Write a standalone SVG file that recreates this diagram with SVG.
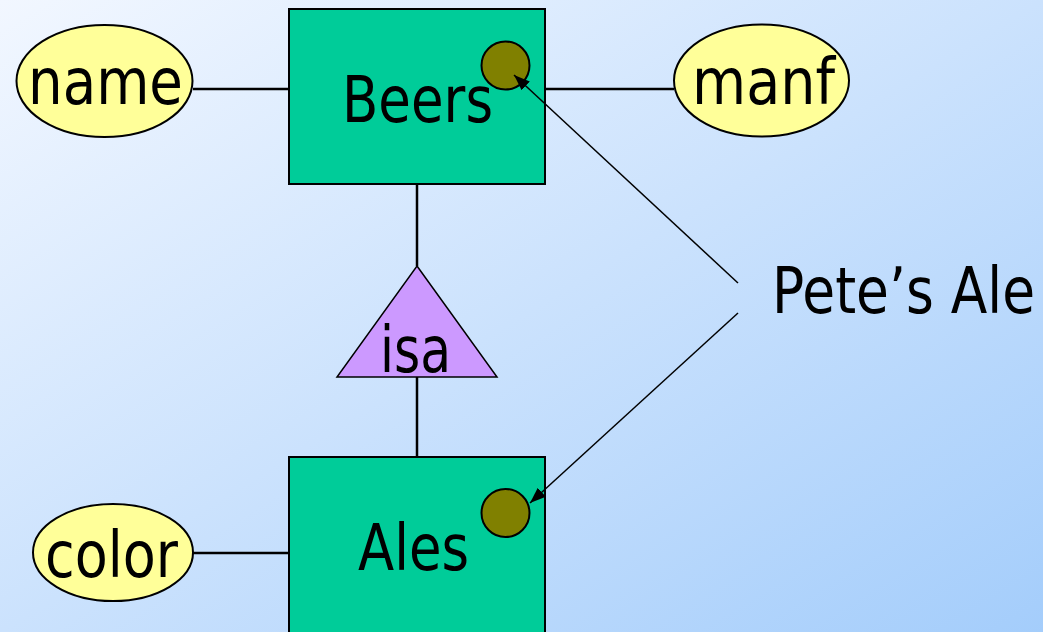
<svg xmlns="http://www.w3.org/2000/svg" width="1043" height="632" viewBox="0 0 1043 632">
<defs>
<linearGradient id="bg" x1="0" y1="0" x2="1" y2="1">
<stop offset="0" stop-color="#F2F7FF"/>
<stop offset="1" stop-color="#A4CDFB"/>
</linearGradient>
<marker id="arr" viewBox="0 0 16 12" refX="16" refY="6" markerWidth="16" markerHeight="12" markerUnits="userSpaceOnUse" orient="auto">
<path d="M0,0 L16,6 L0,12 z" fill="#000"/>
</marker>
</defs>
<style>
.ent{fill:#00CC99;stroke:#000;stroke-width:2}
.attr{fill:#FFFF99;stroke:#000;stroke-width:2}
.dot{fill:#808000;stroke:#000;stroke-width:2}
.isa{fill:#CC99FF;stroke:#000;stroke-width:1.5}
.ln{stroke:#000;stroke-width:2.5;fill:none}
.ar{stroke:#000;stroke-width:1.5;fill:none}
text{font-family:"DejaVu Sans","Liberation Sans",sans-serif;font-size:64px;fill:#000}
</style>
<rect width="1043" height="632" fill="url(#bg)"/>
<g id="name">
<ellipse class="attr" cx="104.5" cy="81" rx="88" ry="56"/>
<text x="28" y="104" textLength="155" lengthAdjust="spacingAndGlyphs">name</text>
</g>
<g id="manf">
<ellipse class="attr" cx="761.5" cy="80.5" rx="87.5" ry="56"/>
<text x="692" y="104" textLength="143" lengthAdjust="spacingAndGlyphs">manf</text>
</g>
<g id="color">
<ellipse class="attr" cx="113" cy="552.5" rx="80" ry="48.5"/>
<text x="45" y="577" textLength="133" lengthAdjust="spacingAndGlyphs">color</text>
</g>
<g id="beers">
<rect class="ent" x="289" y="9" width="256" height="175"/>
<text x="342" y="122" textLength="151" lengthAdjust="spacingAndGlyphs">Beers</text>
<circle class="dot" cx="505.5" cy="65.5" r="24"/>
</g>
<g id="isa">
<polygon class="isa" points="417,266 497,377 337,377"/>
<text x="380" y="372" textLength="71" lengthAdjust="spacingAndGlyphs">isa</text>
</g>
<g id="ales">
<rect class="ent" x="289" y="457" width="256" height="185"/>
<text x="358" y="570" textLength="111" lengthAdjust="spacingAndGlyphs">Ales</text>
<circle class="dot" cx="505.5" cy="513" r="24"/>
</g>
<g id="petes-ale" transform="translate(772,313) scale(0.835,1)">
<text x="0" y="0">Pete’s Ale</text>
</g>
<g id="connectors">
<line class="ln" x1="193" y1="89" x2="289" y2="89"/>
<line class="ln" x1="545" y1="89" x2="674" y2="89"/>
<line class="ln" x1="193" y1="553" x2="289" y2="553"/>
<line class="ln" x1="417" y1="185" x2="417" y2="266"/>
<line class="ln" x1="417" y1="377" x2="417" y2="456"/>
<line class="ar" x1="738" y1="283" x2="514" y2="75" marker-end="url(#arr)"/>
<line class="ar" x1="738" y1="313" x2="530" y2="503" marker-end="url(#arr)"/>
</g>
</svg>
